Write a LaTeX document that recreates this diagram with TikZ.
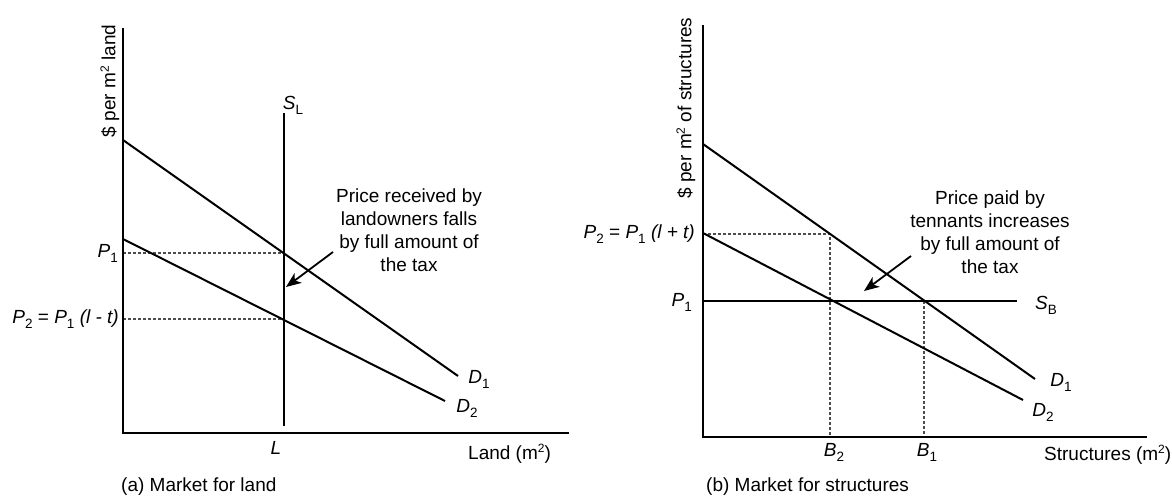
\documentclass[tikz,border=0pt]{standalone}
\usepackage{fontspec}
\setmainfont{Liberation Sans}
\usetikzlibrary{arrows.meta}
\newcommand{\sbs}[1]{\raisebox{-0.5ex}{\fontsize{13.5}{13.5}\selectfont #1}}
\newcommand{\spr}[1]{\raisebox{0.65ex}{\fontsize{12}{12}\selectfont #1}}
\begin{document}
\begin{tikzpicture}[x=1pt,y=-1pt,
  every node/.style={font=\fontsize{19}{23}\selectfont, inner sep=0pt},
  axis/.style={line width=2.2pt},
  curve/.style={line width=2pt},
  guide/.style={line width=1.1pt, black!70, dash pattern=on 3pt off 2pt},
  note/.style={align=center},
  pointer/.style={line width=1.8pt, -{Stealth[length=15pt,width=12pt,inset=4pt]}}]
\useasboundingbox (0,0) rectangle (1172,497);
\fill[white] (0,0) rectangle (1172,497);
% ---------- Left panel ----------
\coordinate (O1) at (123,433);
\coordinate (Y1) at (123,28);
\coordinate (X1) at (569,433);
\coordinate (LD1a) at (123,140);
\coordinate (LD1b) at (458,376);
\coordinate (LD2a) at (123,239);
\coordinate (LD2b) at (445,401);
\coordinate (SLt) at (284,113);
\coordinate (SLb) at (284,426);
\coordinate (LP1) at (123,253);
\coordinate (LE1) at (284,253);
\coordinate (LP2) at (123,319);
\coordinate (LE2) at (284,319);
\coordinate (LAs) at (333,252);
\coordinate (LAe) at (286,287);
\draw[guide] (LP1) -- (LE1);
\draw[guide] (LP2) -- (LE2);
\draw[axis] (Y1) -- (O1) -- (X1);
\draw[curve] (LD1a) -- (LD1b);
\draw[curve] (LD2a) -- (LD2b);
\draw[curve] (SLt) -- (SLb);
\draw[pointer] (LAs) -- (LAe);
\node[note] (ln) at (409,230) {Price received by\\landowners falls\\by full amount of\\the tax};
\node (lsl) at (293,105) {\textit{S}\sbs{L}};
\node[anchor=east] (lp1) at (118,253) {\textit{P}\sbs{1}};
\node[anchor=east] (lp2) at (119,319) {\textit{P}\sbs{2} = \textit{P}\sbs{1} \textit{(l - t)}};
\node (lL) at (276,448) {\textit{L}};
\node[anchor=west] (lx) at (468,454) {Land (m\spr{2})};
\node[anchor=west] (lcap) at (121,487) {(a) Market for land};
\node (ld1) at (479,379) {\textit{D}\sbs{1}};
\node (ld2) at (467,408) {\textit{D}\sbs{2}};
\node[rotate=90] (ly) at (110,81) {\$ per m\spr{2} land};
% ---------- Right panel ----------
\coordinate (O2) at (703,437);
\coordinate (Y2) at (703,25);
\coordinate (X2) at (1147,437);
\coordinate (RD1a) at (703,144);
\coordinate (RD1b) at (1035,379);
\coordinate (RD2a) at (703,233);
\coordinate (RD2b) at (1023,400);
\coordinate (SBa) at (703,301);
\coordinate (SBb) at (1017,301);
\coordinate (RP2) at (703,234);
\coordinate (RE2) at (830,234);
\coordinate (RB2) at (830,437);
\coordinate (RE1) at (924,301);
\coordinate (RB1) at (924,437);
\coordinate (RAs) at (911,256);
\coordinate (RAe) at (864,291);
\draw[guide] (RP2) -- (RE2) -- (RB2);
\draw[guide] (RE1) -- (RB1);
\draw[axis] (Y2) -- (O2) -- (X2);
\draw[curve] (RD1a) -- (RD1b);
\draw[curve] (RD2a) -- (RD2b);
\draw[curve] (SBa) -- (SBb);
\draw[pointer] (RAs) -- (RAe);
\node[note] (rn) at (990,232) {Price paid by\\tennants increases\\by full amount of\\the tax};
\node[anchor=east] (rp2) at (695,234) {\textit{P}\sbs{2} = \textit{P}\sbs{1} \textit{(l + t)}};
\node[anchor=east] (rp1) at (692,302) {\textit{P}\sbs{1}};
\node (rsb) at (1046,305) {\textit{S}\sbs{B}};
\node (rd1) at (1061,382) {\textit{D}\sbs{1}};
\node (rd2) at (1043,412) {\textit{D}\sbs{2}};
\node (rb2) at (834,452) {\textit{B}\sbs{2}};
\node (rb1) at (927,452) {\textit{B}\sbs{1}};
\node[anchor=west] (rx) at (1044,455) {Structures (m\spr{2})};
\node[anchor=west] (rcap) at (706,487) {(b) Market for structures};
\node[rotate=90] (ry) at (686,108) {\$ per m\spr{2} of structures};
\end{tikzpicture}
\end{document}
